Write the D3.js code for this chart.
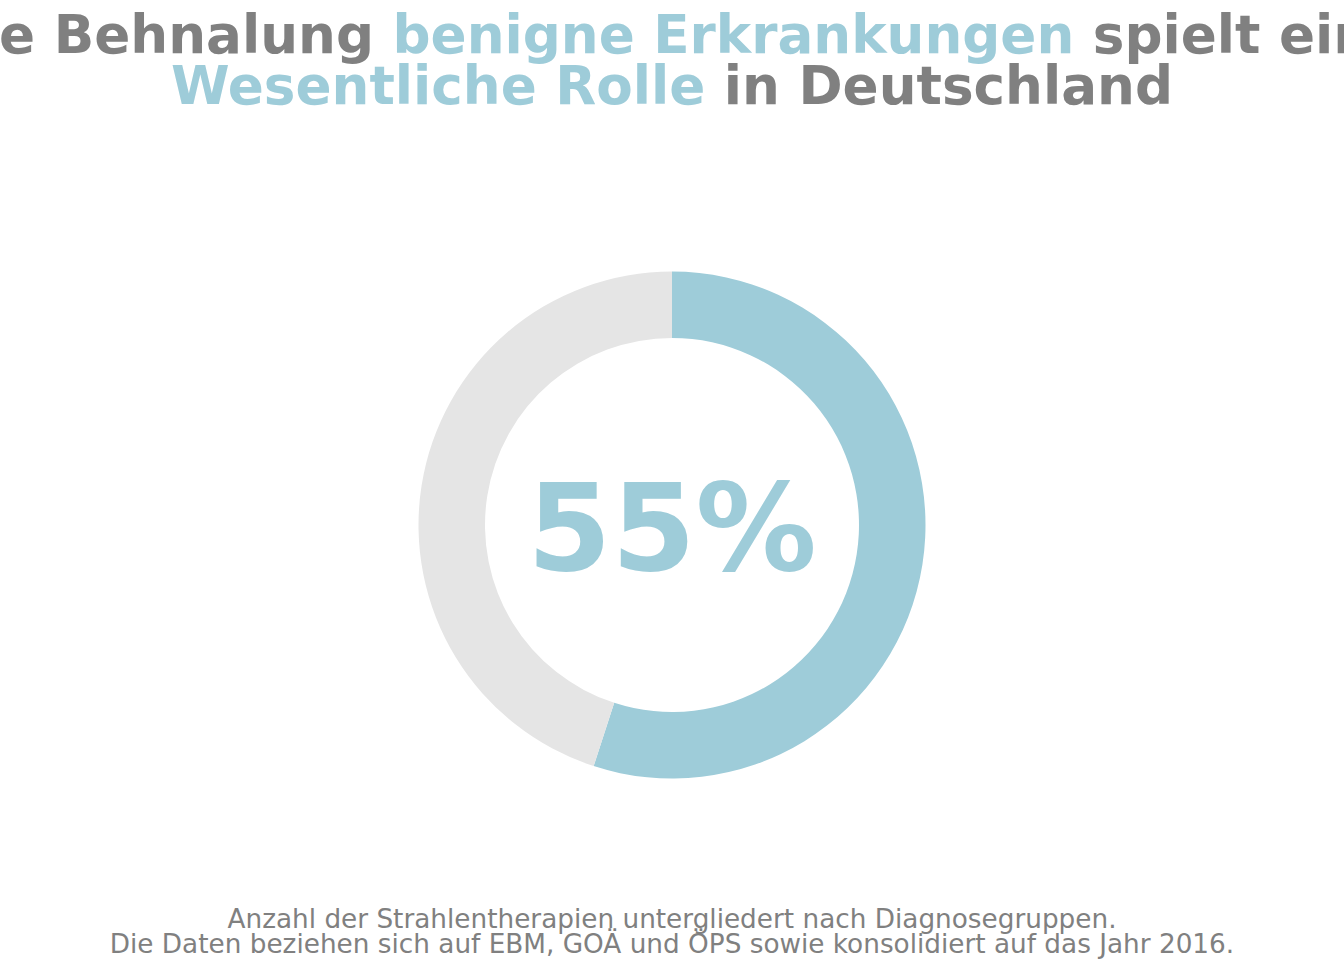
<!DOCTYPE html>
<html><head><meta charset="utf-8">
<script src="https://cdn.jsdelivr.net/npm/d3@7"></script>
<style>html,body{margin:0;padding:0;background:#fff;overflow:hidden}</style>
</head><body>
<svg id="chart" width="1344" height="960"></svg>
<script>
const categories = ["Benigne Erkrankungen", "Andere"];
const values = [55, 45];
const centerLabel = "55%";
const titleLine1 = [["Die Behnalung ", "gray"], ["benigne Erkrankungen", "blue"], [" spielt eine", "gray"]];
const titleLine2 = [["Wesentliche Rolle", "blue"], [" in Deutschland", "gray"]];
const footnotes = ["Anzahl der Strahlentherapien untergliedert nach Diagnosegruppen.",
  "Die Daten beziehen sich auf EBM, GOÄ und ÖPS sowie konsolidiert auf das Jahr 2016."];

const W = 1344, H = 960;
const BLUE = "#9ECCD9", GRAY = "#808080", LIGHT = "#E5E5E5";
const svg = d3.select("#chart");
const font = "'DejaVu Sans', sans-serif";

const color = d3.scaleOrdinal().domain(categories).range([BLUE, LIGHT]);
const pie = d3.pie().sort(null).value(d => d.v);
const arc = d3.arc().innerRadius(187).outerRadius(253.5);
const data = categories.map((c, i) => ({c, v: values[i]}));

const g = svg.append("g").attr("transform", `translate(${W/2},525)`);
g.selectAll("path").data(pie(data)).join("path")
  .attr("d", arc).attr("fill", d => color(d.data.c));

g.append("text").attr("x", 0).attr("y", 45)
  .attr("text-anchor", "middle").attr("font-family", font)
  .attr("font-weight", "bold").attr("font-size", 121)
  .attr("fill", BLUE).text(centerLabel);

function titleLine(parts, y) {
  const t = svg.append("text").attr("x", W/2).attr("y", y)
    .attr("text-anchor", "middle").attr("font-family", font)
    .attr("font-weight", "bold").attr("font-size", 53.2);
  parts.forEach(([s, c]) => t.append("tspan").attr("fill", c === "blue" ? BLUE : GRAY)
    .style("white-space", "pre").text(s));
}
titleLine(titleLine1, 53);
titleLine(titleLine2, 104);

footnotes.forEach((s, i) => svg.append("text").attr("x", W/2).attr("y", 928 + i * 25)
  .attr("text-anchor", "middle").attr("font-family", font)
  .attr("font-size", 26.3).attr("fill", GRAY).text(s));
</script>
</body></html>
